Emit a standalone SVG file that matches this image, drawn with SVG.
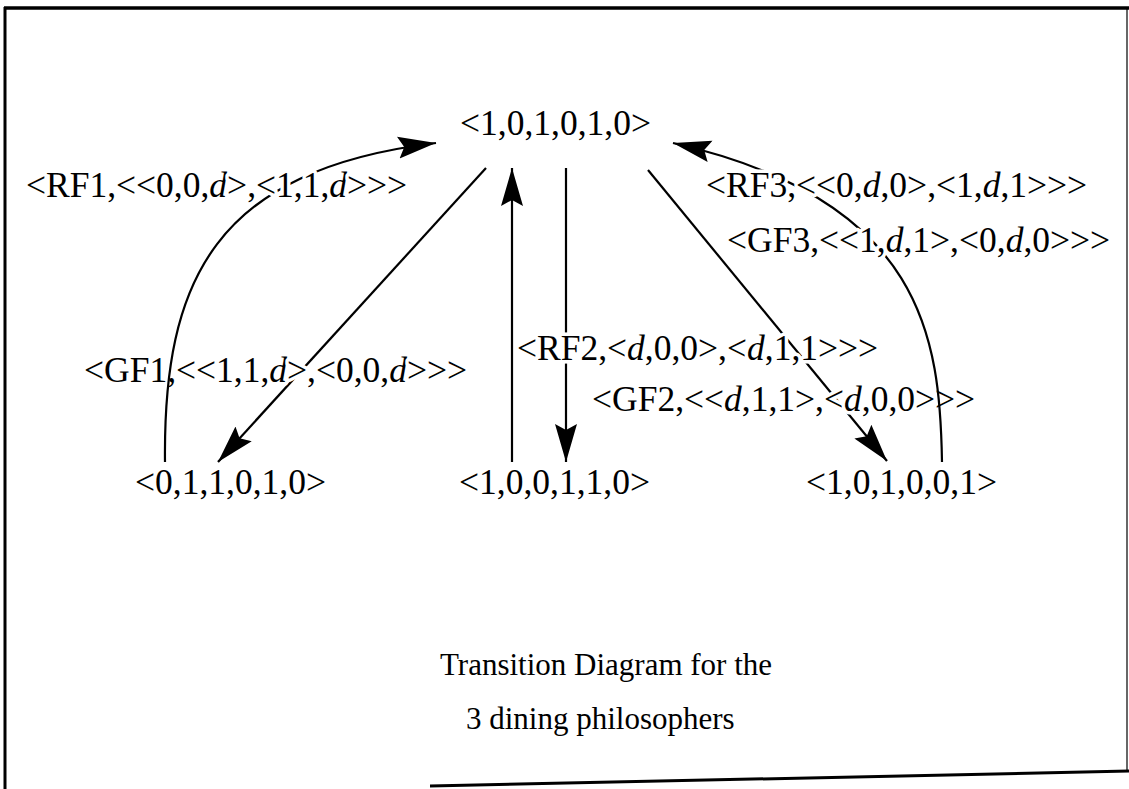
<svg xmlns="http://www.w3.org/2000/svg" width="1129" height="789" viewBox="0 0 1129 789">
<style>
.t{font-family:"Liberation Serif","Times New Roman",serif;font-size:35.5px;fill:#000}
.lbl{paint-order:stroke;stroke:#fff;stroke-width:7px;stroke-linejoin:round}
.i{font-style:italic}
.ttl{font-family:"Liberation Serif","Times New Roman",serif;font-size:31px;fill:#000}
.e{fill:none;stroke:#000;stroke-width:2.2}
</style>
<defs>
<marker id="ah" markerUnits="userSpaceOnUse" markerWidth="40" markerHeight="26" viewBox="0 0 40 26" refX="38" refY="13" orient="auto">
<path d="M0,2 L38,13 L0,24 L6,13 Z" fill="#000"/>
</marker>
</defs>
<rect width="1129" height="789" fill="#fff"/>
<g id="frame" fill="none" stroke="#000">
<line x1="4" y1="8" x2="1129" y2="8" stroke-width="3.5"/>
<line x1="5" y1="7" x2="5" y2="789" stroke-width="3"/>
<line x1="430" y1="786" x2="1129" y2="771" stroke-width="3"/>
<line x1="1127" y1="8" x2="1127" y2="772" stroke-width="1.2"/>
</g>
<g id="connectors">
<line class="e" x1="486" y1="168" x2="218" y2="462" marker-end="url(#ah)"/>
<text class="t lbl" x="84" y="382">&lt;GF1,&lt;&lt;1,1,<tspan class="i">d</tspan>&gt;,&lt;0,0,<tspan class="i">d</tspan>&gt;&gt;&gt;</text>
<path class="e" d="M165,462 C163,280 215,170 436,143" marker-end="url(#ah)"/>
<text class="t lbl" x="26" y="197">&lt;RF1,&lt;&lt;0,0,<tspan class="i">d</tspan>&gt;,&lt;1,1,<tspan class="i">d</tspan>&gt;&gt;&gt;</text>
<line class="e" x1="566" y1="168" x2="566" y2="462" marker-end="url(#ah)"/>
<line class="e" x1="648" y1="170" x2="887" y2="461" marker-end="url(#ah)"/>
<text class="t lbl" x="517" y="360">&lt;RF2,&lt;<tspan class="i">d</tspan>,0,0&gt;,&lt;<tspan class="i">d</tspan>,1,1&gt;&gt;&gt;</text>
<text class="t lbl" x="592" y="411">&lt;GF2,&lt;&lt;<tspan class="i">d</tspan>,1,1&gt;,&lt;<tspan class="i">d</tspan>,0,0&gt;&gt;&gt;</text>
<line class="e" x1="512" y1="462" x2="512" y2="168" marker-end="url(#ah)"/>
<path class="e" d="M942,462 C940,340 925,200 673,143" marker-end="url(#ah)"/>
<text class="t lbl" x="706" y="197">&lt;RF3,&lt;&lt;0,<tspan class="i">d</tspan>,0&gt;,&lt;1,<tspan class="i">d</tspan>,1&gt;&gt;&gt;</text>
<text class="t lbl" x="727" y="252">&lt;GF3,&lt;&lt;1,<tspan class="i">d</tspan>,1&gt;,&lt;0,<tspan class="i">d</tspan>,0&gt;&gt;&gt;</text>
</g>
<g id="node-top"><text class="t" x="460" y="135">&lt;1,0,1,0,1,0&gt;</text></g>
<g id="node-left"><text class="t" x="135" y="494">&lt;0,1,1,0,1,0&gt;</text></g>
<g id="node-mid"><text class="t" x="459" y="494">&lt;1,0,0,1,1,0&gt;</text></g>
<g id="node-right"><text class="t" x="806" y="494">&lt;1,0,1,0,0,1&gt;</text></g>
<g id="title">
<text class="ttl" x="440" y="675">Transition Diagram for the</text>
<text class="ttl" x="466" y="729">3 dining philosophers</text>
</g>
</svg>
